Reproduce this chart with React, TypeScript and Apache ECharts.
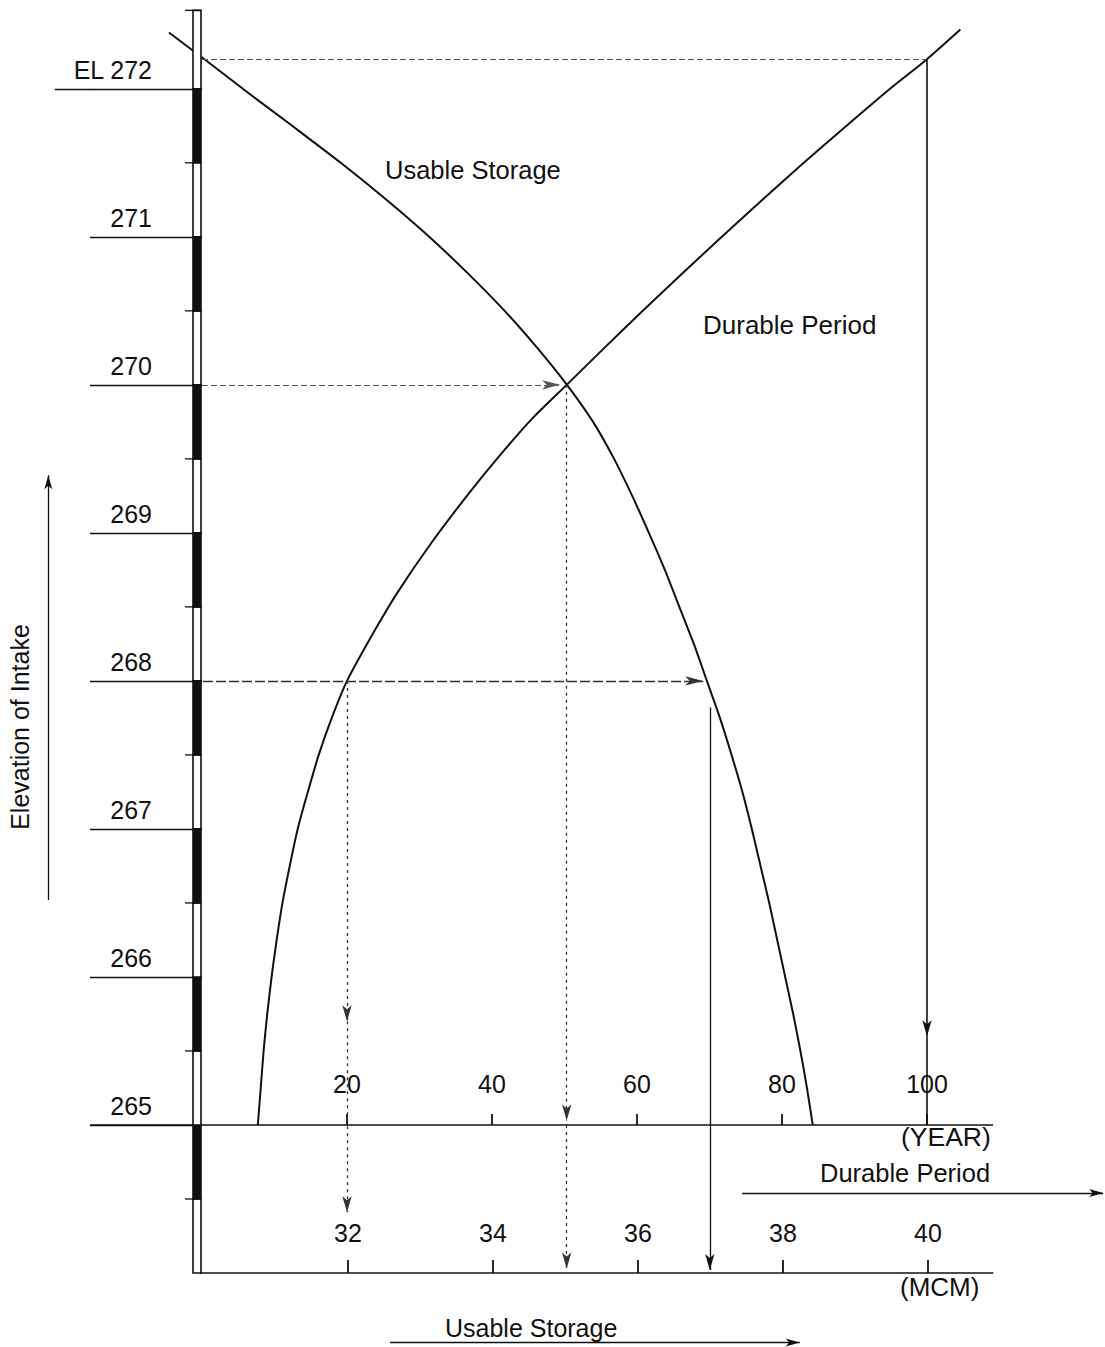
import React, { useEffect, useRef } from "react";
import * as echarts from "echarts";

// ---- tick labels ----
const elevationTicks = [265, 266, 267, 268, 269, 270, 271, 272];
const yearTicks = [20, 40, 60, 80, 100];
const mcmTicks = [32, 34, 36, 38, 40];

// ---- Durable Period curve (elevation m, years) ----
const durableElev = [265.0, 265.25, 265.5, 265.75, 266.0, 266.25, 266.5, 266.75, 267.0, 267.25, 267.5, 267.75, 268.0, 268.33, 268.6, 268.93, 269.26, 269.53, 269.78, 270.0, 270.25, 270.5, 270.75, 271.0, 271.25, 271.5, 271.75, 272.0, 272.2, 272.4];
const durableYears = [7.7, 8.1, 8.5, 9.0, 9.6, 10.3, 11.1, 12.1, 13.2, 14.6, 16.1, 17.9, 20.0, 23.7, 27.0, 31.6, 36.7, 41.2, 45.7, 50.3, 55.5, 60.8, 66.2, 71.7, 77.3, 83.0, 88.9, 94.9, 100.0, 104.6];

// ---- Usable Storage curve (elevation m, MCM) ----
const usableElev = [265.0, 265.25, 265.5, 265.75, 266.0, 266.25, 266.5, 266.75, 267.0, 267.25, 267.5, 267.75, 268.0, 268.25, 268.5, 268.75, 269.0, 269.25, 269.5, 269.75, 270.0, 270.25, 270.5, 270.75, 271.0, 271.25, 271.5, 271.75, 272.0, 272.2, 272.38];
const usableMcm = [38.41, 38.33, 38.24, 38.14, 38.03, 37.92, 37.81, 37.69, 37.57, 37.44, 37.29, 37.13, 36.95, 36.77, 36.57, 36.37, 36.15, 35.92, 35.67, 35.38, 35.02, 34.61, 34.16, 33.66, 33.12, 32.53, 31.9, 31.23, 30.55, 30.02, 29.53];

// ---- construction lines ----
const designElev = 270;
const designYears = 50.3;
const lowElev = 268;
const lowYears = 20;
const lowMcm = 36.95;
const topElev = 272.2;
const topYears = 100;

// elevation scale bar
const scaleBarBottom = 264;
const scaleBarTop = 272.53;

// axis extents
const Y_MIN = 263.5;
const Y_MAX = 272.6;
const YEARS_MIN = -27.862;
const YEARS_MAX = 124.552;
const MCM_MIN = 27.2;
const MCM_MAX = 42.441;

const FONT = "'Liberation Sans', Arial, Helvetica, sans-serif";
const INK = "#111";

function seg(x1: number, y1: number, x2: number, y2: number, style: any, arrow = false, arrowSize: number[] = [7, 16]) {
  return [
    { coord: [x1, y1], symbol: "none", lineStyle: style },
    { coord: [x2, y2], symbol: arrow ? "arrow" : "none", symbolSize: arrowSize },
  ];
}

export default function App() {
  const ref = useRef<HTMLDivElement>(null);

  useEffect(() => {
    if (!ref.current) return;
    const chart = echarts.init(ref.current, null, { renderer: "svg" });

    const solid = { type: "solid", color: INK, width: 1.6 };
    const thin = { type: "solid", color: INK, width: 1.3 };
    const dotted = { type: [3, 4], color: "#333", width: 1.3 };
    const dashedGray = { type: [6, 3], color: "#555", width: 1.2 };
    const dashed = { type: [10, 3], color: "#333", width: 1.4 };

    const barSegments: number[][] = [];
    for (let s = scaleBarBottom; s < 272; s += 0.5) {
      barSegments.push([0, s, s + 0.5, s % 1 === 0.5 ? 1 : 0]);
    }
    barSegments.push([0, 272, scaleBarTop, 0]);

    const yearsMarks = [
      seg(-15.45, 265, 109.1, 265, solid),
      seg(-20.3, 272, -15.4, 272, thin),
      seg(0, topElev, topYears, topElev, dashedGray),
      seg(topYears, topElev, topYears, 265.6, solid, true),
      seg(topYears, 265.6, topYears, 265, solid),
      seg(0, designElev, designYears - 0.9, designElev, dashedGray, true, [7, 18]),
      seg(designYears, designElev, designYears, 265.03, dotted, true),
      seg(designYears, 265, designYears, 264.03, dotted, true),
      seg(lowYears, lowElev, lowYears, 265.7, dotted, true),
      seg(lowYears, 265.7, lowYears, 264.41, dotted, true),
      seg(74.5, 264.54, 124.3, 264.54, thin, true, [6, 14]),
      seg(-21.2, 266.52, -21.2, 269.39, thin, true, [6, 14]),
    ];

    const mcmMarks = [
      seg(29.96, 264, 40.9, 264, solid),
      seg(30, lowElev, lowMcm - 0.05, lowElev, dashed, true, [7, 18]),
      seg(36.99, 267.82, 36.99, 264.02, thin, true),
      seg(32.58, 263.53, 38.23, 263.53, thin, true, [6, 14]),
    ];

    const textEl = (x: number, y: number, text: string, size: number) => ({
      type: "text",
      x,
      y,
      style: { text, fontSize: size, fontFamily: FONT, fill: INK, align: "left", verticalAlign: "middle" },
    });

    const option: any = {
      animation: false,
      backgroundColor: "#fff",
      textStyle: { fontFamily: FONT },
      grid: { left: 0, right: 0, top: 0, bottom: 0, containLabel: false, outerBoundsMode: "none" },
      xAxis: [
        {
          type: "value",
          min: YEARS_MIN,
          max: YEARS_MAX,
          position: "bottom",
          offset: -222,
          axisLine: { show: false },
          splitLine: { show: false },
          axisTick: { show: true, inside: true, length: 11, customValues: yearTicks, lineStyle: { color: INK, width: 1.8 } },
          axisLabel: { show: true, inside: true, margin: 29, customValues: yearTicks, fontSize: 25, color: INK, fontFamily: FONT },
        },
        {
          type: "value",
          min: MCM_MIN,
          max: MCM_MAX,
          position: "bottom",
          offset: -74,
          axisLine: { show: false },
          splitLine: { show: false },
          axisTick: { show: true, inside: true, length: 13, customValues: mcmTicks, lineStyle: { color: INK, width: 1.8 } },
          axisLabel: { show: true, inside: true, margin: 28, customValues: mcmTicks, fontSize: 25, color: INK, fontFamily: FONT },
        },
      ],
      yAxis: {
        type: "value",
        min: Y_MIN,
        max: Y_MAX,
        position: "left",
        offset: -202,
        axisLine: { show: false },
        splitLine: { show: false },
        axisTick: { show: true, length: 112, customValues: elevationTicks, lineStyle: { color: INK, width: 1.3 } },
        axisLabel: {
          show: true,
          customValues: elevationTicks,
          formatter: (v: number) => (v === 272 ? "EL 272" : String(v)),
          margin: 50,
          align: "right",
          verticalAlign: "bottom",
          lineHeight: 25,
          padding: [0, 0, 6, 0],
          fontSize: 25,
          color: INK,
          fontFamily: FONT,
        },
      },
      series: [
        {
          name: "Durable Period",
          type: "line",
          xAxisIndex: 0,
          yAxisIndex: 0,
          data: durableYears.map((v, i) => [v, durableElev[i]]),
          symbol: "none",
          smooth: 0.25,
          clip: false,
          lineStyle: { color: INK, width: 2 },
          z: 4,
          silent: true,
          markLine: {
            silent: true,
            animation: false,
            label: { show: false },
            emphasis: { disabled: true },
            symbol: ["none", "none"],
            itemStyle: { color: INK },
            lineStyle: solid,
            data: yearsMarks,
          },
        },
        {
          name: "Usable Storage",
          type: "line",
          xAxisIndex: 1,
          yAxisIndex: 0,
          data: usableMcm.map((v, i) => [v, usableElev[i]]),
          symbol: "none",
          smooth: 0.25,
          clip: false,
          lineStyle: { color: INK, width: 2 },
          z: 4,
          silent: true,
          markLine: {
            silent: true,
            animation: false,
            label: { show: false },
            emphasis: { disabled: true },
            symbol: ["none", "none"],
            itemStyle: { color: INK },
            lineStyle: solid,
            data: mcmMarks,
          },
        },
        {
          name: "scale bar",
          type: "custom",
          xAxisIndex: 0,
          yAxisIndex: 0,
          silent: true,
          clip: false,
          z: 6,
          encode: { x: 0, y: [1, 2] },
          data: barSegments,
          renderItem: (params: any, api: any) => {
            const lo = api.coord([0, api.value(1)]);
            const hi = api.coord([0, api.value(2)]);
            const x = lo[0];
            const children: any[] = [
              {
                type: "rect",
                shape: { x: x - 9, y: hi[1], width: 8, height: lo[1] - hi[1] },
                style: { fill: api.value(3) ? INK : "#fff", stroke: INK, lineWidth: 1.6 },
              },
            ];
            if (api.value(1) % 1 === 0.5) {
              children.push({ type: "line", shape: { x1: x - 17, y1: lo[1], x2: x - 9, y2: lo[1] }, style: { stroke: INK, lineWidth: 1.3 } });
            }
            if (api.value(2) > 272.4) {
              children.push({ type: "line", shape: { x1: x - 17, y1: hi[1], x2: x - 1, y2: hi[1] }, style: { stroke: INK, lineWidth: 1.3 } });
            }
            return { type: "group", children };
          },
        },
      ],
      graphic: [
        textEl(385, 170, "Usable Storage", 25.5),
        textEl(703, 325, "Durable Period", 26),
        textEl(901, 1137, "(YEAR)", 26.5),
        textEl(820, 1173, "Durable Period", 25.5),
        textEl(900, 1287, "(MCM)", 26),
        textEl(445, 1328, "Usable Storage", 25),
        {
          type: "text",
          x: 20,
          y: 727,
          rotation: Math.PI / 2,
          style: { text: "Elevation of Intake", fontSize: 25, fontFamily: FONT, fill: INK, align: "center", verticalAlign: "middle" },
        },
      ],
    };

    chart.setOption(option);
    return () => chart.dispose();
  }, []);

  return (
    <div
      ref={ref}
      style={{ position: "fixed", left: 0, top: 0, width: 1105, height: 1347, background: "#fff" }}
    />
  );
}
